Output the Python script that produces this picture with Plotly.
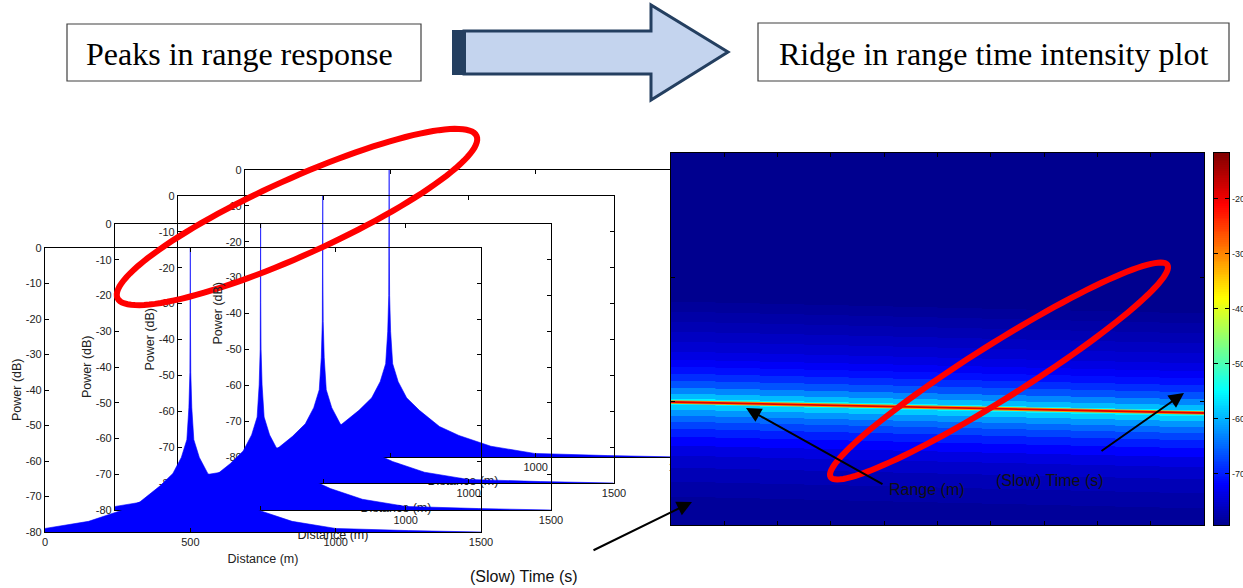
import numpy as np
import plotly.graph_objects as go

W, H = 1243, 588

# ---------------- data ----------------
# Range response of one snapshot: power level vs. distance from the target peak
resp_offset_m = [0, 0.5, 1.5, 5, 12, 31, 60, 104, 173, 240, 350, 500, 750, 1000]
resp_level_db = [0, -22, -35, -45, -54, -59, -63.5, -67, -71.5, -74, -77, -79, -79.6, -80]

# Target peak position in each stacked snapshot (back to front)
snapshot_peak_m = [496, 498, 501, 500]

dist_ticks = [0, 500, 1000, 1500]
dist_tick_text = ["0", "500", "1000", "1500"]
power_ticks = [0, -10, -20, -30, -40, -50, -60, -70, -80]
power_tick_text = ["0", "-10", "-20", "-30", "-40", "-50", "-60", "-70", "-80"]

# Range-time intensity map: ridge range bin in each slow-time column
rti_ridge_bin = [249, 250, 251, 252, 253, 254, 255, 256, 257, 258, 259, 260]
# Intensity band around the ridge: bin offsets (edges) and level in each band (dB)
rti_band_edge = [-260, -100, -90, -80, -70, -60, -50, -42, -35, -28, -21, -14, -8, -3,
                 3, 8, 14, 20, 27, 35, 44, 54, 66, 80, 95, 130]
rti_band_db = [-79.4, -78.6, -77.8, -77, -76, -75, -73.8, -72.5, -71, -69, -66.5, -63, -59.5,
               -55.5, -58.5, -62, -65, -67.5, -70, -72, -74, -75.5, -76.8, -77.8, -78.7]
# Ridge line end points (slow time, range bin)
ridge_time = [0, 10]
ridge_bin = [249, 260]

# Colour scale limits and colour bar ticks (dB)
c_min, c_max = -79.4, -11.7
cbar_ticks = [-70, -60, -50, -40, -30, -20]
cbar_tick_text = ["-70", "-60", "-50", "-40", "-30", "-20"]

# ---------------- helpers ----------------
def px(x):
    return x / W


def py(y):
    return 1 - y / H


jet = [
    [0.0, "rgb(0,0,143)"],
    [0.11, "rgb(0,0,255)"],
    [0.36, "rgb(0,255,255)"],
    [0.61, "rgb(255,255,0)"],
    [0.86, "rgb(255,0,0)"],
    [1.0, "rgb(128,0,0)"],
]

SANS = "Liberation Sans, Arial, sans-serif"
SERIF = "Liberation Serif, Times New Roman, serif"

fig = go.Figure()
layout = dict(
    width=W,
    height=H,
    margin=dict(l=0, r=0, t=0, b=0, autoexpand=False),
    paper_bgcolor="white",
    plot_bgcolor="rgba(0,0,0,0)",
    showlegend=False,
)

axis_style = dict(
    showline=True,
    linecolor="black",
    linewidth=1.3,
    mirror="ticks",
    ticks="inside",
    ticklen=4,
    tickwidth=1,
    tickcolor="black",
    showgrid=False,
    zeroline=False,
    tickfont=dict(family=SANS, size=11, color="#222"),
)


def label(text, x, y, size, family=SANS, color="#222", angle=0):
    return dict(text=text, x=px(x), y=py(y), xref="paper", yref="paper", xanchor="center",
                yanchor="middle", showarrow=False, textangle=angle,
                font=dict(family=family, size=size, color=color))


# stacked range-response panels: (left, top, bottom) in pixels, back to front
panel_px = [(245, 170, 457), (178, 196, 483), (115, 224, 510), (45, 248, 532)]
title_standoff = [14, 15, 15, 17]
PW = 436

annotations = []
off = np.array(resp_offset_m, dtype=float)
lvl = np.array(resp_level_db, dtype=float)

for i, (peak, (l, t, b)) in enumerate(zip(snapshot_peak_m, panel_px)):
    k = i + 1
    sfx = "" if k == 1 else str(k)
    over = "x" + str(6 + k)
    xs = np.concatenate([peak - off[::-1], peak + off[1:]])
    ys = np.concatenate([lvl[::-1], lvl[1:]])
    xs = np.concatenate([[xs[0]], xs, [xs[-1]]])
    ys = np.concatenate([[-80], ys, [-80]])
    # filled response
    fig.add_trace(
        go.Scatter(
            x=xs, y=ys, mode="lines", fill="toself", fillcolor="rgb(0,0,255)",
            line=dict(width=0), xaxis="x" + sfx, yaxis="y" + sfx, hoverinfo="skip",
        )
    )
    # thin outline of the response (keeps the narrow peak visible up to its top)
    fig.add_trace(
        go.Scatter(
            x=xs, y=ys, mode="lines", line=dict(color="rgb(0,0,255)", width=0.6),
            xaxis=over, yaxis="y" + sfx, hoverinfo="skip",
        )
    )
    layout["xaxis" + sfx] = dict(
        domain=[px(l), px(l + PW)],
        range=[0, 1500],
        tickmode="array",
        tickvals=dist_ticks,
        ticktext=dist_tick_text,
        anchor="y" + sfx,
        **axis_style,
    )
    layout["yaxis" + sfx] = dict(
        domain=[py(b), py(t)],
        range=[-80, 0],
        tickmode="array",
        tickvals=power_ticks,
        ticktext=power_tick_text,
        anchor="x" + sfx,
        **axis_style,
    )
    # the overlaid axis also carries the x title, so it sits in this panel's own
    # layer and the panels drawn in front of it can hide it
    layout["xaxis" + str(6 + k)] = dict(
        overlaying="x" + sfx,
        anchor="y" + sfx,
        side="bottom",
        range=[0, 1500],
        tickmode="array",
        tickvals=[750],
        ticktext=["Distance (m)"],
        ticks="",
        showline=False,
        showgrid=False,
        zeroline=False,
        ticklabelstandoff=title_standoff[i],
        tickfont=dict(family=SANS, size=12.5, color="#222"),
    )
    annotations.append(label("Power (dB)", l - 28, (t + b) / 2, 12.5, angle=-90))

# ---------------- range-time intensity map ----------------
n_cols = len(rti_ridge_bin)
t_edges = np.linspace(0, 10, n_cols + 1)
edges = np.array(rti_band_edge, dtype=float)
for j, rb in enumerate(rti_ridge_bin):
    fig.add_trace(
        go.Heatmap(
            x=[t_edges[j], t_edges[j + 1] + 0.04],
            y=rb + edges,
            z=[[v] for v in rti_band_db],
            coloraxis="coloraxis",
            xaxis="x5",
            yaxis="y5",
            hoverinfo="skip",
        )
    )

fig.add_trace(go.Scatter(x=ridge_time, y=ridge_bin, mode="lines",
                         line=dict(color="rgb(255,150,0)", width=3.6),
                         xaxis="x5", yaxis="y5", hoverinfo="skip"))
fig.add_trace(go.Scatter(x=ridge_time, y=ridge_bin, mode="lines",
                         line=dict(color="rgb(225,0,0)", width=1.8),
                         xaxis="x5", yaxis="y5", hoverinfo="skip"))

hm_axis = dict(axis_style)
hm_axis["showticklabels"] = False
layout["xaxis5"] = dict(domain=[px(671), px(1204)], range=[0, 10], tickmode="array",
                        tickvals=list(range(1, 10)), anchor="y5", **hm_axis)
layout["yaxis5"] = dict(domain=[py(525), py(153)], range=[372, 0], tickmode="array",
                        tickvals=[124, 248], anchor="x5", **hm_axis)

# colour bar drawn as its own narrow heatmap so its labels may run off the page edge
cbar_levels = np.linspace(c_min, c_max, 200)
fig.add_trace(go.Heatmap(x=[0, 1], y=cbar_levels, z=[[v] for v in cbar_levels], coloraxis="coloraxis",
                         xaxis="x6", yaxis="y6", hoverinfo="skip"))
cb_axis = dict(axis_style)
cb_axis["tickfont"] = dict(family=SANS, size=9, color="#222")
layout["xaxis6"] = dict(domain=[px(1214), px(1229)], range=[0, 1], showticklabels=False, ticks="",
                        showline=True, linecolor="black", linewidth=1, mirror=True,
                        showgrid=False, zeroline=False, anchor="y6")
layout["yaxis6"] = dict(domain=[py(525), py(153)], range=[c_min, c_max], tickmode="array",
                        tickvals=cbar_ticks, ticktext=cbar_tick_text, side="right", anchor="x6",
                        **cb_axis)

layout["coloraxis"] = dict(colorscale=jet, cmin=c_min, cmax=c_max, showscale=False)

# ---------------- header boxes and block arrow ----------------
shapes = []
shapes.append(dict(type="rect", xref="paper", yref="paper", x0=px(67), x1=px(421), y0=py(81), y1=py(24),
                   line=dict(color="#404040", width=1.2), fillcolor="white", layer="above"))
shapes.append(dict(type="rect", xref="paper", yref="paper", x0=px(758), x1=px(1229), y0=py(81), y1=py(23),
                   line=dict(color="#404040", width=1.2), fillcolor="white", layer="above"))
annotations.append(label("Peaks in range response", 239, 54, 32, family=SERIF, color="black"))
annotations.append(label("Ridge in range time intensity plot", 993, 54, 32, family=SERIF, color="black"))


def paper_path(points):
    return "M " + " L ".join(f"{px(x):.5f},{py(y):.5f}" for x, y in points) + " Z"


arrow_pts = [(464, 31), (651, 31), (651, 5), (728, 52), (651, 100), (651, 74), (464, 74)]
shapes.append(dict(type="path", xref="paper", yref="paper", path=paper_path(arrow_pts),
                   fillcolor="#C4D4EE", line=dict(color="#243F60", width=3), layer="above"))
shapes.append(dict(type="rect", xref="paper", yref="paper", x0=px(452), x1=px(466), y0=py(75), y1=py(30),
                   fillcolor="#243F60", line=dict(width=0), layer="above"))

# ---------------- red highlight ellipses ----------------
def ellipse_pts(cx, cy, a, b, ang_deg, n=120):
    th = np.radians(ang_deg)
    ph = np.linspace(0, 2 * np.pi, n, endpoint=False)
    x = cx + a * np.cos(ph) * np.cos(th) - b * np.sin(ph) * np.sin(th)
    y = cy + a * np.cos(ph) * np.sin(th) + b * np.sin(ph) * np.cos(th)
    return list(zip(x, y))


for cx, cy, a, b, ang in [(297, 217, 197, 38, -24.3), (999, 371, 199, 27, -32.2)]:
    shapes.append(dict(type="path", xref="paper", yref="paper", path=paper_path(ellipse_pts(cx, cy, a, b, ang)),
                       line=dict(color="rgb(255,0,0)", width=6), layer="above"))

# ---------------- pointer arrows and labels ----------------
for (tx, ty), (sx, sy) in [((692, 502), (592, 551)), ((746, 408), (884, 485)), ((1184, 393), (1100, 452))]:
    annotations.append(dict(text="", x=px(tx), y=py(ty), xref="paper", yref="paper",
                            xanchor="center", yanchor="middle",
                            ax=sx - tx, ay=sy - ty, showarrow=True, arrowhead=2, arrowsize=1.5,
                            arrowwidth=2, arrowcolor="black"))

for txt, x, y in [("(Slow) Time (s)", 524, 576), ("Range (m)", 927, 489), ("(Slow) Time (s)", 1050, 480)]:
    annotations.append(label(txt, x, y, 16, color="#111"))

layout["shapes"] = shapes
layout["annotations"] = annotations
fig.update_layout(**layout)
fig.write_html("out.html")
